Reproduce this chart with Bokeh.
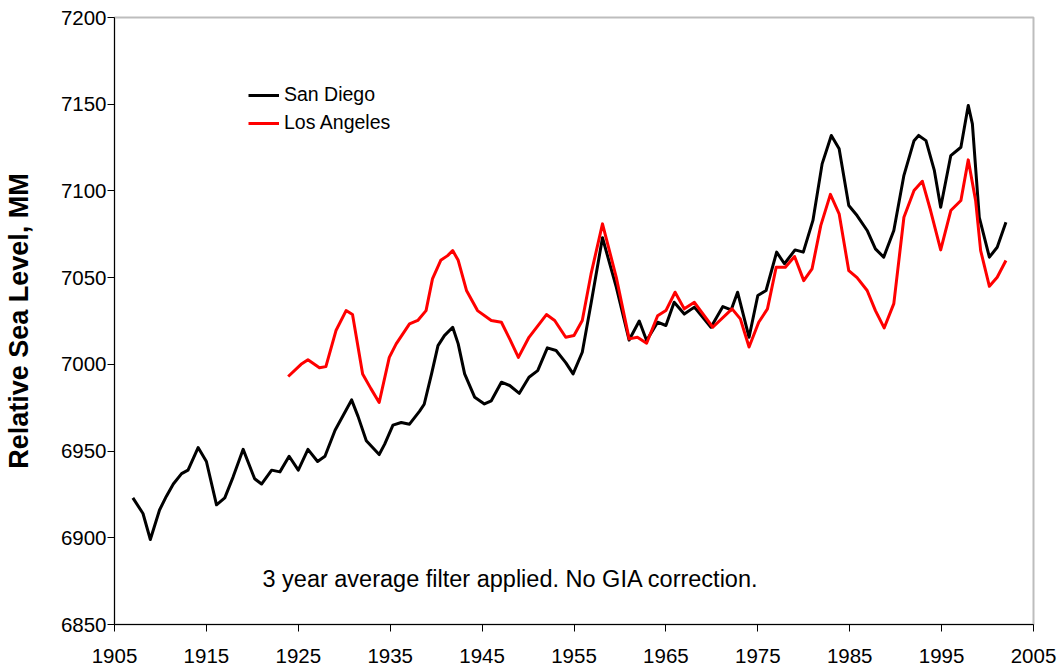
from bokeh.plotting import figure
from bokeh.models import Range1d, FixedTicker, Legend, LegendItem, Label
from bokeh.embed import file_html
from bokeh.resources import INLINE

sd_year = [1907.0, 1908.1, 1908.9, 1909.9, 1910.65, 1911.4, 1912.3, 1913.0, 1914.1, 1915.0,
           1916.1, 1917.0, 1917.9, 1919.0, 1920.25, 1921.0, 1922.1, 1923.0, 1924.0, 1925.0,
           1926.05, 1927.1, 1927.9, 1929.0, 1930.8, 1931.5, 1932.4, 1933.8, 1934.4, 1935.3,
           1936.2, 1937.1, 1938.2, 1938.7, 1939.5, 1940.2, 1940.9, 1941.8, 1942.4, 1943.1,
           1944.2, 1945.25, 1946.0, 1947.1, 1948.0, 1949.05, 1950.1, 1951.05, 1952.1, 1953.05,
           1954.1, 1954.9, 1955.9, 1956.85, 1958.1, 1959.6, 1961.0, 1962.1, 1962.9, 1964.1,
           1965.0, 1965.9, 1967.0, 1968.1, 1969.9, 1971.2, 1972.1, 1972.8, 1974.05, 1975.0,
           1975.9, 1977.05, 1977.9, 1979.05, 1979.95, 1981.0, 1982.0, 1983.0, 1983.85, 1984.9,
           1985.8, 1986.9, 1987.8, 1988.7, 1989.8, 1990.9, 1992.0, 1992.5, 1993.3, 1994.2,
           1994.9, 1996.0, 1997.1, 1997.9, 1998.35, 1999.1, 2000.2, 2001.05, 2002.0]
sd_level = [6923, 6914, 6899, 6916, 6924, 6931, 6937, 6939, 6952, 6944,
            6919, 6923, 6935, 6951, 6934, 6931, 6939, 6938, 6947, 6939,
            6951, 6944, 6947, 6962, 6979.5, 6970, 6956, 6948, 6954, 6965,
            6966.5, 6965.5, 6973, 6977, 6994.5, 7010.8, 7016.6, 7021.4, 7011.8, 6994.5,
            6981, 6977.2, 6979, 6989.7, 6987.8, 6983.3, 6992.6, 6996.4, 7009.5, 7008,
            7001, 6994.5, 7007, 7035, 7073, 7044.5, 7014, 7025, 7013.7, 7024.3,
            7022.4, 7035.8, 7029, 7033, 7021.4, 7033.3, 7031.4, 7041.6, 7015.6, 7039.7,
            7042.6, 7064.7, 7058, 7066, 7064.7, 7083, 7115.6, 7132, 7124.3, 7091.6,
            7085.8, 7077.2, 7066.6, 7061.8, 7077.2, 7109, 7129, 7132, 7129, 7112,
            7090.6, 7120.4, 7125.2, 7149.3, 7138.7, 7084.8, 7061.8, 7067.5, 7081.9]

la_year = [1923.9, 1925.3, 1926.05, 1927.3, 1928.0, 1929.1, 1930.2, 1930.9, 1932.0, 1932.9,
           1933.8, 1934.9, 1935.65, 1937.1, 1938.0, 1938.9, 1939.6, 1940.5, 1941.25, 1941.8,
           1942.4, 1943.3, 1944.5, 1946.0, 1947.1, 1948.0, 1948.95, 1950.1, 1952.0, 1952.9,
           1954.1, 1955.0, 1955.9, 1956.85, 1958.1, 1959.6, 1961.0, 1961.9, 1962.9, 1964.1,
           1965.0, 1966.0, 1967.0, 1968.1, 1970.1, 1972.2, 1973.1, 1974.05, 1975.1, 1976.05,
           1977.0, 1978.0, 1979.0, 1980.0, 1980.9, 1981.85, 1982.9, 1983.85, 1984.9, 1985.8,
           1986.9, 1987.8, 1988.75, 1989.8, 1990.9, 1992.0, 1992.9, 1993.8, 1994.9, 1996.0,
           1997.1, 1997.9, 1998.7, 1999.25, 2000.2, 2001.05, 2002.0]
la_level = [6993, 7000, 7002.6, 6998, 6998.7, 7019.5, 7031, 7028.7, 6994.5, 6986,
            6978, 7004, 7011.8, 7023.3, 7025.3, 7031, 7049.3, 7060, 7062.7, 7065.6,
            7060, 7042.6, 7031, 7025.3, 7024.3, 7014.7, 7004, 7015.6, 7028.7, 7025.3,
            7015.6, 7016.6, 7025.3, 7052, 7081, 7050.2, 7014.7, 7015.6, 7012.2, 7028,
            7031, 7041.6, 7032, 7035.8, 7021.4, 7032, 7026.2, 7010, 7024.3, 7032,
            7056, 7056, 7062.2, 7048.3, 7055, 7080, 7098, 7086.8, 7054, 7050,
            7042.6, 7031, 7021, 7035, 7084.8, 7100.2, 7105.6, 7088.7, 7066, 7088.7,
            7094.5, 7117.9, 7094.5, 7065.6, 7045, 7050.2, 7059.9]

x_ticks = [1905, 1915, 1925, 1935, 1945, 1955, 1965, 1975, 1985, 1995, 2005]
y_ticks = [6850, 6900, 6950, 7000, 7050, 7100, 7150, 7200]
series_names = ["San Diego", "Los Angeles"]
note_text = "3 year average filter applied.  No GIA correction."
y_title = "Relative Sea Level, MM"

FONT = "Liberation Sans"

p = figure(width=1060, height=670, output_backend="svg", toolbar_location=None,
           x_range=Range1d(1905, 2005), y_range=Range1d(6850, 7200),
           min_border_left=113, min_border_right=27, min_border_top=17, min_border_bottom=46)
p.background_fill_color = "white"
p.border_fill_color = "white"
p.outline_line_color = "#bdbdbd"
p.outline_line_width = 2
p.grid.visible = False

for ax in (p.xaxis[0], p.yaxis[0]):
    ax.axis_line_color = "black"
    ax.axis_line_width = 1
    ax.major_tick_line_color = "black"
    ax.major_tick_out = 7
    ax.major_tick_in = 0
    ax.minor_tick_line_color = None
    ax.major_label_text_font = FONT
    ax.major_label_text_font_size = "20.5px"
    ax.major_label_text_color = "black"

p.xaxis.ticker = FixedTicker(ticks=x_ticks)
p.yaxis.ticker = FixedTicker(ticks=y_ticks)
p.xaxis.major_label_standoff = 17
p.yaxis.major_label_standoff = 1

p.yaxis.axis_label = y_title
p.yaxis.axis_label_text_font = FONT
p.yaxis.axis_label_text_font_size = "27px"
p.yaxis.axis_label_text_font_style = "bold"
p.yaxis.axis_label_text_color = "black"
p.yaxis.axis_label_standoff = 24

r_sd = p.line(sd_year, sd_level, line_color="black", line_width=3, line_join="round")
r_la = p.line(la_year, la_level, line_color="#ff0000", line_width=3, line_join="round")

legend = Legend(items=[LegendItem(label=series_names[0], renderers=[r_sd]),
                       LegendItem(label=series_names[1], renderers=[r_la])],
                location=(134, 490), padding=0, margin=0, spacing=5,
                glyph_width=31, glyph_height=20, label_height=20, label_standoff=5,
                label_text_font=FONT, label_text_font_size="19.5px", label_text_color="black",
                border_line_color=None, background_fill_alpha=0)
p.add_layout(legend)

note = Label(x=1921.1, y=6876.5, text=note_text, text_font=FONT, text_font_size="23.5px",
             text_baseline="middle", text_align="left", text_color="black")
p.add_layout(note)

open("out.html", "w").write(file_html(p, INLINE))
